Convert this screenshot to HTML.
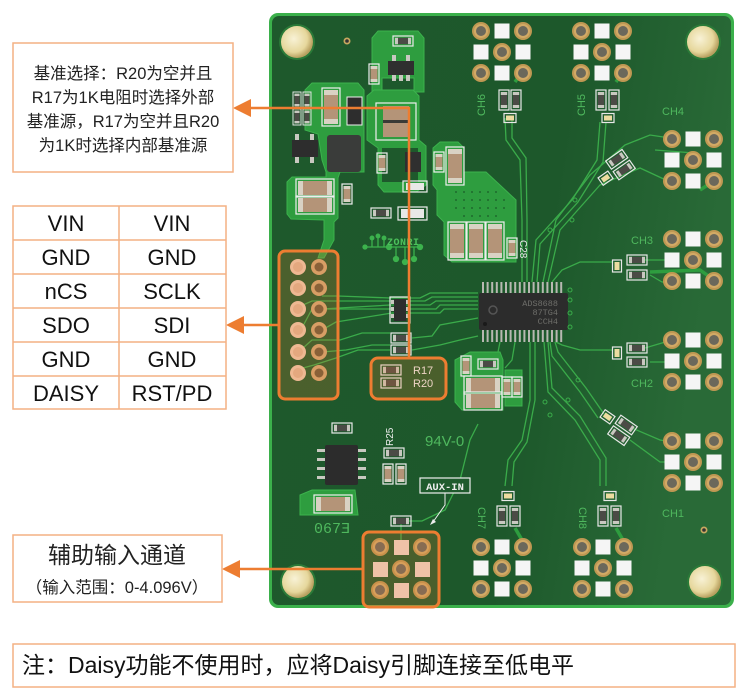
<!DOCTYPE html>
<html><head><meta charset="utf-8"><style>
html,body{margin:0;padding:0;background:#fff;}
svg{display:block;}
</style></head><body>
<svg width="750" height="699" viewBox="0 0 750 699" xmlns="http://www.w3.org/2000/svg">
<defs>
  <linearGradient id="bd" x1="0" y1="0" x2="1" y2="0.2">
    <stop offset="0" stop-color="#1e592c"/>
    <stop offset="0.65" stop-color="#1d582b"/>
    <stop offset="1" stop-color="#296a37"/>
  </linearGradient>
  <radialGradient id="mh" cx="0.4" cy="0.4" r="0.6">
    <stop offset="0" stop-color="#f8f2d6"/>
    <stop offset="0.7" stop-color="#e6d79c"/>
    <stop offset="1" stop-color="#b8a060"/>
  </radialGradient>
  <g id="hole"><circle r="9" fill="#bf9853"/><circle r="7" fill="#d2aa66"/><circle r="5" fill="#6b685b"/></g>
  <g id="grid">
    <use href="#hole" x="-21" y="-21"/><use href="#hole" x="21" y="-21"/><use href="#hole" x="0" y="0"/>
    <use href="#hole" x="-21" y="21"/><use href="#hole" x="21" y="21"/>
    <rect x="-7.5" y="-28.5" width="15" height="15" fill="#f5f5f5"/>
    <rect x="-28.5" y="-7.5" width="15" height="15" fill="#f5f5f5"/>
    <rect x="13.5" y="-7.5" width="15" height="15" fill="#f5f5f5"/>
    <rect x="-7.5" y="13.5" width="15" height="15" fill="#f5f5f5"/>
  </g>
  <g id="rv"><rect x="-5" y="-10" width="10" height="20" fill="none" stroke="#e8e8e8" stroke-width="1.2"/><rect x="-3.2" y="-8" width="6.4" height="16" fill="#4b4b46"/><rect x="-3.2" y="-8" width="6.4" height="3" fill="#c8c8c0"/><rect x="-3.2" y="5" width="6.4" height="3" fill="#c8c8c0"/></g>
  <g id="rh"><use href="#rv" transform="rotate(90)"/></g>
  <g id="sc"><rect x="-6" y="-4.5" width="12" height="9" fill="none" stroke="#e8e8e8" stroke-width="1.2"/><rect x="-4" y="-2.5" width="8" height="5" fill="#ecdca0"/></g>
  <g id="capv"><rect x="-9" y="-19" width="18" height="38" fill="none" stroke="#eee" stroke-width="1.2"/><rect x="-7" y="-17" width="14" height="34" fill="#b49478"/><rect x="-7" y="-17" width="14" height="5" fill="#d9d2c4"/><rect x="-7" y="12" width="14" height="5" fill="#d9d2c4"/></g>
  <g id="caph"><use href="#capv" transform="rotate(90)"/></g>
  <g id="cs"><rect x="-5" y="-10" width="10" height="20" fill="none" stroke="#eee" stroke-width="1.2"/><rect x="-3.5" y="-8" width="7" height="16" fill="#b49478"/><rect x="-3.5" y="-8" width="7" height="3" fill="#d9d2c4"/><rect x="-3.5" y="5" width="7" height="3" fill="#d9d2c4"/></g>
</defs>

<!-- BOARD -->
<rect x="269" y="13" width="465" height="595" rx="9" fill="#3bb04b"/>
<rect x="272" y="16" width="459" height="589" rx="7" fill="url(#bd)"/>

<!-- mounting holes -->
<circle cx="297" cy="42" r="18" fill="#2a7a38"/><circle cx="297" cy="42" r="16" fill="url(#mh)"/>
<circle cx="703" cy="42" r="18" fill="#2a7a38"/><circle cx="703" cy="42" r="16" fill="url(#mh)"/>
<circle cx="298" cy="582" r="18" fill="#2a7a38"/><circle cx="298" cy="582" r="16" fill="url(#mh)"/>
<circle cx="705" cy="582" r="18" fill="#2a7a38"/><circle cx="705" cy="582" r="16" fill="url(#mh)"/>
<circle cx="347" cy="41" r="3.5" fill="#c8a860"/><circle cx="347" cy="41" r="1.8" fill="#333"/>
<circle cx="704" cy="530" r="3.5" fill="#c8a860"/><circle cx="704" cy="530" r="1.8" fill="#333"/>

<!-- copper pours -->
<g fill="#2e9d3f" stroke="#3cb24d" stroke-width="1">
  <path d="M372,38 L378,31 L418,31 L424,38 L424,92 L414,92 L414,78 L382,78 L382,92 L372,92 Z"/>
  <path d="M305,90 L312,83 L358,83 L364,90 L364,172 L340,172 L338,178 L338,218 L334,222 L334,240 L324,258 L318,258 L324,240 L324,220 L291,219 L287,214 L287,182 L292,177 L326,177 L326,172 L322,160 L318,134 L305,130 Z"/>
  <path d="M367,96 L374,90 L413,90 L419,96 L419,140 L426,146 L426,185 L416,192 L384,192 L378,185 L378,148 L367,140 Z"/>
  <path d="M433,148 L440,142 L458,142 L464,148 L464,172 L486,172 L516,200 L516,262 L452,262 L444,255 L444,222 L437,215 L437,190 L433,185 Z"/>
  <path d="M455,360 L470,352 L500,352 L503,360 L503,410 L462,410 L455,402 Z"/>
  <path d="M505,370 L522,370 L522,406 L505,406 Z"/>
  <path d="M300,495 L312,490 L355,490 L358,515 L300,515 Z"/>
</g>
<rect x="382" y="148" width="36" height="34" fill="#1e592c"/>
<!-- via dots on big pour -->
<g fill="#1f6a2e">
  <circle cx="456" cy="192" r="1"/><circle cx="464" cy="192" r="1"/><circle cx="472" cy="192" r="1"/><circle cx="480" cy="192" r="1"/><circle cx="488" cy="192" r="1"/><circle cx="496" cy="192" r="1"/>
  <circle cx="456" cy="200" r="1"/><circle cx="464" cy="200" r="1"/><circle cx="472" cy="200" r="1"/><circle cx="480" cy="200" r="1"/><circle cx="488" cy="200" r="1"/><circle cx="496" cy="200" r="1"/><circle cx="504" cy="200" r="1"/>
  <circle cx="456" cy="208" r="1"/><circle cx="464" cy="208" r="1"/><circle cx="472" cy="208" r="1"/><circle cx="480" cy="208" r="1"/><circle cx="488" cy="208" r="1"/><circle cx="496" cy="208" r="1"/><circle cx="504" cy="208" r="1"/>
  <circle cx="464" cy="216" r="1"/><circle cx="472" cy="216" r="1"/><circle cx="480" cy="216" r="1"/><circle cx="488" cy="216" r="1"/><circle cx="496" cy="216" r="1"/>
</g>

<!-- traces -->
<g fill="none" stroke="#3aab4a" stroke-width="1.3">
  <path d="M322,296 L338,296 L390,298 L420,298 L430,293 L478,293"/>
  <path d="M303,305 L312,301 L390,301 L425,301 L432,297 L478,297"/>
  <path d="M322,309 L390,305 L430,305 L436,301 L478,301"/>
  <path d="M303,326 L312,309 L390,309 L436,309 L440,305 L478,305"/>
  <path d="M322,330 L336,322 L392,313 L440,313 L444,309 L478,309"/>
  <path d="M303,348 L312,340 L340,340 L362,333 L390,333"/>
  <path d="M322,352 L346,350 L372,345 L390,345"/>
  <path d="M303,368 L314,365 L336,358 L358,350 L390,350"/>
  <path d="M412,338 L432,336 L440,325 L478,318"/>
  <path d="M412,350 L440,345 L460,340 L478,336"/>
  <path d="M505,118 L506,140 L520,160 L522,220 L522,282"/>
  <path d="M512,118 L512,138 L526,158 L527,220 L527,282"/>
  <path d="M600,122 L597,160 L572,200 L536,240 L532,282"/>
  <path d="M606,122 L603,162 L578,202 L540,244 L537,282"/>
  <path d="M670,138 L650,135 L625,145 L590,175 L556,220 L543,282"/>
  <path d="M668,181 L640,168 L600,185 L560,230 L548,282"/>
  <path d="M694,153 L655,150"/>
  <path d="M612,262 L580,262 L562,270 L552,282"/>
  <path d="M645,260 L672,260"/>
  <path d="M650,275 L662,282 L680,282"/>
  <path d="M612,350 L580,350 L562,345 L556,342"/>
  <path d="M645,348 L672,340"/>
  <path d="M650,362 L672,362"/>
  <path d="M598,418 L580,392 L552,356 L550,342"/>
  <path d="M604,414 L586,388 L558,352 L555,342"/>
  <path d="M630,440 L660,462 L672,462"/>
  <path d="M632,428 L660,440 L672,442"/>
  <path d="M600,486 L600,460 L575,420 L548,392 L544,342"/>
  <path d="M606,486 L606,458 L580,416 L552,388 L548,342"/>
  <path d="M505,486 L508,460 L522,440 L530,400 L530,342"/>
  <path d="M512,486 L514,462 L527,442 L535,400 L535,342"/>
  <path d="M401,548 L401,521 L422,521 L445,510 L460,480 L470,440 L478,424"/>
  <path d="M515,342 L512,360 L505,368"/>
  <path d="M500,342 L498,352"/>
</g>
<g fill="none" stroke="#2e9d3f" stroke-width="3.5">
  <path d="M522,556 L522,540 L515,528"/>
  <path d="M623,556 L623,540 L616,528"/>
  <path d="M523,40 L523,30"/>
  <path d="M522,72 L515,82"/>
  <path d="M623,72 L616,82"/>
  <path d="M714,181 L700,190"/>
  <path d="M714,280 L700,270 L650,272"/>
</g>

<!-- components top-left area -->
<g transform="translate(297,100) scale(0.8)"><use href="#rv"/></g>
<g transform="translate(307,100) scale(0.8)"><use href="#rv"/></g>
<g transform="translate(297,117) scale(0.8)"><use href="#rv"/></g>
<g transform="translate(307,117) scale(0.8)"><use href="#rv"/></g>
<use href="#capv" x="331" y="107"/>
<rect x="347" y="97" width="15" height="28" fill="#2d2d2d" stroke="#eee" stroke-width="1"/>
<rect x="327" y="135" width="34" height="37" rx="3" fill="#3a3c3a"/>
<rect x="292" y="140" width="26" height="17" fill="#2d2d2d"/>
<g fill="#c8c8c0"><rect x="295" y="134" width="4" height="6"/><rect x="310" y="134" width="4" height="6"/><rect x="295" y="157" width="4" height="6"/><rect x="310" y="157" width="4" height="6"/></g>
<use href="#caph" x="315" y="188"/>
<use href="#caph" x="315" y="205"/>
<use href="#cs" x="347" y="194"/>
<!-- top center -->
<use href="#rh" x="403" y="41"/>
<rect x="388" y="61" width="26" height="14" fill="#2f2f2f"/>
<g fill="#c8c8c0"><rect x="392" y="55" width="4" height="6"/><rect x="406" y="55" width="4" height="6"/><rect x="392" y="75" width="4" height="6"/><rect x="399" y="75" width="4" height="6"/><rect x="406" y="75" width="4" height="6"/></g>
<use href="#cs" x="374" y="74"/>
<rect x="376" y="103" width="40" height="37" fill="none" stroke="#eee" stroke-width="1.2"/>
<rect x="383" y="106" width="26" height="15" fill="#b49478"/><rect x="383" y="122" width="26" height="15" fill="#b49478"/>
<rect x="383" y="120" width="26" height="3" fill="#3a3a36"/>
<use href="#cs" x="382" y="163"/>
<rect x="405" y="152" width="16" height="20" fill="#2f2f2f"/>
<use href="#cs" x="439" y="162"/>
<use href="#capv" x="455" y="166"/>
<rect x="403" y="181" width="24" height="11" fill="none" stroke="#eee" stroke-width="1.2"/><rect x="406" y="183" width="18" height="7" fill="#e8e8e6"/>
<!-- mid-left -->
<use href="#rh" x="381" y="213"/>
<rect x="398" y="207" width="29" height="13" fill="none" stroke="#eee" stroke-width="1.2"/><rect x="401" y="209" width="23" height="9" fill="#e8e8e6"/>
<!-- three caps -->
<use href="#capv" x="457" y="241"/><use href="#capv" x="476" y="241"/><use href="#capv" x="495" y="241"/>
<use href="#cs" x="512" y="248"/>
<text x="0" y="0" transform="translate(520,240) rotate(90)" font-family="Liberation Sans, sans-serif" font-size="10" fill="#e8e8e8">C28</text>
<!-- ZONRI logo -->
<g stroke="#3cb24d" stroke-width="1.3" fill="#3cb24d">
  <path d="M365,247 L420,247" fill="none"/>
  <circle cx="365" cy="247" r="2"/><circle cx="420" cy="247" r="2.5"/>
  <path d="M372,247 L372,239 M378,247 L378,237 M384,247 L384,239" fill="none"/>
  <circle cx="372" cy="238" r="1.8"/><circle cx="378" cy="236" r="1.8"/><circle cx="384" cy="238" r="1.8"/>
  <path d="M396,247 L396,258 M405,247 L405,262 M414,247 L414,258" fill="none"/>
  <circle cx="396" cy="259" r="2.5"/><circle cx="405" cy="262" r="2.5"/><circle cx="414" cy="259" r="2.5"/>
  <circle cx="389" cy="247" r="2.5"/>
</g>
<text x="387" y="245" font-family="Liberation Mono, monospace" font-size="10" font-weight="bold" fill="#4cc25c" letter-spacing="0.5">ZONRI</text>

<!-- resistor array & resistors -->
<rect x="390" y="297" width="20" height="26" fill="none" stroke="#eee" stroke-width="1.2"/>
<rect x="394" y="299" width="12" height="22" fill="#2d2d2d"/>
<g fill="#c8c8c0"><rect x="391" y="300" width="3" height="4"/><rect x="391" y="307" width="3" height="4"/><rect x="391" y="314" width="3" height="4"/><rect x="406" y="300" width="3" height="4"/><rect x="406" y="307" width="3" height="4"/><rect x="406" y="314" width="3" height="4"/></g>
<use href="#rh" x="401" y="338"/><use href="#rh" x="401" y="350"/>

<!-- chip -->
<g fill="#b8b8b2">
  <rect x="482" y="282" width="2" height="11"/><rect x="486.6" y="282" width="2" height="11"/><rect x="491.2" y="282" width="2" height="11"/><rect x="495.8" y="282" width="2" height="11"/><rect x="500.4" y="282" width="2" height="11"/><rect x="505" y="282" width="2" height="11"/><rect x="509.6" y="282" width="2" height="11"/><rect x="514.2" y="282" width="2" height="11"/><rect x="518.8" y="282" width="2" height="11"/><rect x="523.4" y="282" width="2" height="11"/><rect x="528" y="282" width="2" height="11"/><rect x="532.6" y="282" width="2" height="11"/><rect x="537.2" y="282" width="2" height="11"/><rect x="541.8" y="282" width="2" height="11"/><rect x="546.4" y="282" width="2" height="11"/><rect x="551" y="282" width="2" height="11"/><rect x="555.6" y="282" width="2" height="11"/><rect x="560.2" y="282" width="2" height="11"/>
  <rect x="482" y="330" width="2" height="12"/><rect x="486.6" y="330" width="2" height="12"/><rect x="491.2" y="330" width="2" height="12"/><rect x="495.8" y="330" width="2" height="12"/><rect x="500.4" y="330" width="2" height="12"/><rect x="505" y="330" width="2" height="12"/><rect x="509.6" y="330" width="2" height="12"/><rect x="514.2" y="330" width="2" height="12"/><rect x="518.8" y="330" width="2" height="12"/><rect x="523.4" y="330" width="2" height="12"/><rect x="528" y="330" width="2" height="12"/><rect x="532.6" y="330" width="2" height="12"/><rect x="537.2" y="330" width="2" height="12"/><rect x="541.8" y="330" width="2" height="12"/><rect x="546.4" y="330" width="2" height="12"/><rect x="551" y="330" width="2" height="12"/><rect x="555.6" y="330" width="2" height="12"/><rect x="560.2" y="330" width="2" height="12"/>
</g>
<rect x="479" y="293" width="89" height="37" rx="2" fill="#2c2c2c"/>
<circle cx="485" cy="324" r="2" fill="#1a1a1a"/>
<circle cx="493" cy="310" r="4" fill="none" stroke="#555" stroke-width="1.5"/>
<g font-family="Liberation Mono, monospace" font-size="8.5" fill="#6e6e6a" text-anchor="end">
  <text x="558" y="306">ADS8688</text><text x="558" y="315">87TG4</text><text x="558" y="324">CCH4</text>
</g>
<g fill="none" stroke="#3aab4a" stroke-width="1"><circle cx="570" cy="290" r="2"/><circle cx="570" cy="300" r="2"/><circle cx="570" cy="313" r="2"/><circle cx="570" cy="327" r="2"/><circle cx="575" cy="200" r="2"/><circle cx="572" cy="220" r="2"/><circle cx="550" cy="230" r="2"/><circle cx="578" cy="380" r="2"/><circle cx="568" cy="400" r="2"/><circle cx="550" cy="415" r="2"/><circle cx="545" cy="402" r="2"/></g>

<!-- lower mid components -->
<use href="#cs" x="466" y="366"/>
<use href="#caph" x="483" y="385"/><use href="#caph" x="483" y="401"/>
<use href="#rh" x="488" y="364"/>
<use href="#cs" x="507" y="387"/><use href="#cs" x="517" y="387"/>

<!-- channel clusters -->
<use href="#rv" x="504" y="100"/><use href="#rv" x="516" y="100"/><use href="#sc" x="510" y="118"/>
<use href="#rv" x="601" y="100"/><use href="#rv" x="614" y="100"/><use href="#sc" x="608" y="118"/>
<use href="#rv" x="502" y="516"/><use href="#rv" x="515" y="516"/><use href="#sc" x="508" y="496"/>
<use href="#rv" x="603" y="516"/><use href="#rv" x="616" y="516"/><use href="#sc" x="610" y="496"/>
<use href="#sc" x="617" y="266" transform="rotate(90 617 266)"/><use href="#rh" x="637" y="260"/><use href="#rh" x="637" y="275"/>
<use href="#sc" x="617" y="353" transform="rotate(90 617 353)"/><use href="#rh" x="637" y="348"/><use href="#rh" x="637" y="362"/>
<g transform="translate(612,170) rotate(-35)"><use href="#rh" x="10" y="-6"/><use href="#rh" x="10" y="7"/><use href="#sc" x="-10" y="3"/></g>
<g transform="translate(614,425) rotate(35)"><use href="#rh" x="10" y="6"/><use href="#rh" x="10" y="-7"/><use href="#sc" x="-10" y="-3"/></g>

<!-- channel grids -->
<use href="#grid" x="502" y="52"/>
<use href="#grid" x="602" y="52"/>
<use href="#grid" x="693" y="160"/>
<use href="#grid" x="693" y="260"/>
<use href="#grid" x="693" y="361"/>
<use href="#grid" x="693" y="462"/>
<use href="#grid" x="502" y="568"/>
<use href="#grid" x="603" y="568"/>

<!-- channel labels -->
<g font-family="Liberation Sans, sans-serif" font-size="11" fill="#4fb85e">
  <text transform="translate(485,116) rotate(-90)">CH6</text>
  <text transform="translate(585,116) rotate(-90)">CH5</text>
  <text x="662" y="115">CH4</text>
  <text x="631" y="244">CH3</text>
  <text x="631" y="387">CH2</text>
  <text x="662" y="517">CH1</text>
  <text transform="translate(478,507) rotate(90)">CH7</text>
  <text transform="translate(579,507) rotate(90)">CH8</text>
</g>

<!-- lower-left area -->
<use href="#rh" x="342" y="428"/>
<rect x="325" y="445" width="33" height="40" rx="2" fill="#2c2c2c"/>
<g fill="#c8c8c0"><rect x="317" y="449" width="8" height="3"/><rect x="317" y="458" width="8" height="3"/><rect x="317" y="467" width="8" height="3"/><rect x="317" y="476" width="8" height="3"/><rect x="358" y="449" width="8" height="3"/><rect x="358" y="458" width="8" height="3"/><rect x="358" y="467" width="8" height="3"/><rect x="358" y="476" width="8" height="3"/></g>
<use href="#caph" x="333" y="504"/>
<use href="#rh" x="394" y="453"/>
<use href="#cs" x="388" y="474"/><use href="#cs" x="401" y="474"/>
<text transform="translate(393,446) rotate(-90)" font-family="Liberation Sans, sans-serif" font-size="10" fill="#eee">R25</text>
<text x="425" y="446" font-family="Liberation Sans, sans-serif" font-size="15" fill="#4fb85e">94V-0</text>
<text x="314" y="533" font-family="Liberation Mono, 'DejaVu Sans Mono', monospace" font-size="15" fill="#4fb85e">067Ǝ</text>
<!-- AUX-IN -->
<rect x="420" y="478" width="50" height="15" fill="#1f5a2d" stroke="#eee" stroke-width="1.2"/>
<text x="445" y="490" text-anchor="middle" font-family="Liberation Mono, monospace" font-size="10.5" font-weight="bold" fill="#eee">AUX-IN</text>
<path d="M445,493 L445,505 L433,522" fill="none" stroke="#eee" stroke-width="1"/>
<path d="M430,525 L433,519 L436,522 Z" fill="#eee"/>
<use href="#rh" x="401" y="521"/>

<!-- header pins -->
<g>
  <circle cx="298" cy="267" r="8" fill="#efc9ae"/><circle cx="298" cy="288" r="8" fill="#efc9ae"/><circle cx="298" cy="309" r="8" fill="#efc9ae"/><circle cx="298" cy="330" r="8" fill="#efc9ae"/><circle cx="298" cy="352" r="8" fill="#efc9ae"/><circle cx="298" cy="373" r="8" fill="#efc9ae"/>
  <g fill="#e2b595"><circle cx="298" cy="267" r="5"/><circle cx="298" cy="288" r="5"/><circle cx="298" cy="309" r="5"/><circle cx="298" cy="330" r="5"/><circle cx="298" cy="352" r="5"/><circle cx="298" cy="373" r="5"/></g>
  <g fill="#d2a874"><circle cx="319" cy="267" r="8"/><circle cx="319" cy="288" r="8"/><circle cx="319" cy="309" r="8"/><circle cx="319" cy="330" r="8"/><circle cx="319" cy="352" r="8"/><circle cx="319" cy="373" r="8"/></g>
  <g fill="#6e5a3a"><circle cx="319" cy="267" r="4.5"/><circle cx="319" cy="288" r="4.5"/><circle cx="319" cy="309" r="4.5"/><circle cx="319" cy="330" r="4.5"/><circle cx="319" cy="352" r="4.5"/><circle cx="319" cy="373" r="4.5"/></g>
</g>

<!-- AUX grid -->
<g>
  <use href="#hole" x="380" y="547"/><use href="#hole" x="422" y="547"/><use href="#hole" x="401" y="569"/><use href="#hole" x="380" y="590"/><use href="#hole" x="422" y="590"/>
  <rect x="394" y="540" width="15" height="15" fill="#f0d6c8"/><rect x="373" y="562" width="15" height="15" fill="#f0d6c8"/><rect x="415" y="562" width="15" height="15" fill="#f0d6c8"/><rect x="394" y="583" width="15" height="15" fill="#f0d6c8"/>
</g>

<!-- R17/R20 -->
<use href="#rh" x="391" y="370"/><use href="#rh" x="391" y="383"/>
<g font-family="Liberation Sans, sans-serif" font-size="11" fill="#eee"><text x="413" y="374">R17</text><text x="413" y="387">R20</text></g>

<!-- orange highlight boxes -->
<g fill="#ed7d31" fill-opacity="0.22" stroke="#ed7d31" stroke-width="3">
  <rect x="279" y="251" width="59" height="148" rx="6"/>
  <rect x="371" y="358" width="75" height="41" rx="7"/>
  <rect x="363" y="532" width="76" height="75" rx="6"/>
</g>

<!-- connector lines / arrows -->
<g stroke="#ed7d31" stroke-width="2.5" fill="none">
  <path d="M409,358 L409,108 L247,108"/>
  <path d="M279,325 L240,325"/>
  <path d="M363,569 L236,569"/>
</g>
<g fill="#ed7d31">
  <path d="M233,108 L251,99 L251,117 Z"/>
  <path d="M226,325 L244,316 L244,334 Z"/>
  <path d="M222,569 L240,560 L240,578 Z"/>
</g>

<!-- annotation box 1 -->
<rect x="13" y="43" width="220" height="129" fill="#fff" stroke="#f4b183" stroke-width="1.5"/>
<g font-family="Liberation Sans, 'Noto Sans CJK SC', sans-serif" font-size="16.5" fill="#222" text-anchor="middle">
  <text x="123" y="79">基准选择：R20为空并且</text>
  <text x="123" y="103">R17为1K电阻时选择外部</text>
  <text x="123" y="127">基准源，R17为空并且R20</text>
  <text x="123" y="151">为1K时选择内部基准源</text>
</g>

<!-- pin table -->
<g fill="none" stroke="#f4b183" stroke-width="1.5">
  <rect x="13" y="206" width="213" height="203" fill="#fff"/>
  <path d="M119,206 L119,409 M13,240 L226,240 M13,274 L226,274 M13,308 L226,308 M13,342 L226,342 M13,376 L226,376"/>
</g>
<g font-family="Liberation Sans, sans-serif" font-size="22" fill="#111" text-anchor="middle">
  <text x="66" y="231">VIN</text><text x="172" y="231">VIN</text>
  <text x="66" y="265">GND</text><text x="172" y="265">GND</text>
  <text x="66" y="299">nCS</text><text x="172" y="299">SCLK</text>
  <text x="66" y="333">SDO</text><text x="172" y="333">SDI</text>
  <text x="66" y="367">GND</text><text x="172" y="367">GND</text>
  <text x="66" y="401">DAISY</text><text x="172" y="401">RST/PD</text>
</g>

<!-- AUX annotation -->
<rect x="13" y="535" width="209" height="67" fill="#fff" stroke="#f4b183" stroke-width="1.5"/>
<g font-family="Liberation Sans, 'Noto Sans CJK SC', sans-serif" fill="#222" text-anchor="middle">
  <text x="117" y="563" font-size="23">辅助输入通道</text>
  <text x="117" y="593" font-size="16.5">（输入范围：0-4.096V）</text>
</g>

<!-- note -->
<rect x="13" y="644" width="722" height="43" fill="#fff" stroke="#f4b183" stroke-width="1.5"/>
<text x="22" y="673" font-family="Liberation Sans, 'Noto Sans CJK SC', sans-serif" font-size="23" fill="#111">注：Daisy功能不使用时，应将Daisy引脚连接至低电平</text>
</svg>
</body></html>
